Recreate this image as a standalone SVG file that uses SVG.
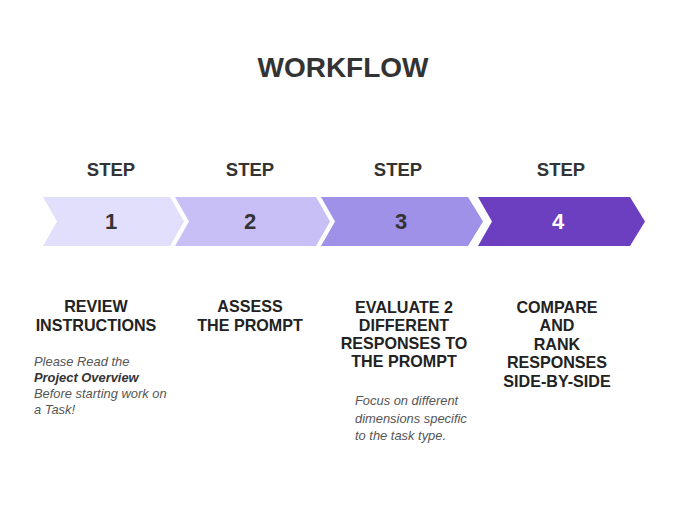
<svg xmlns="http://www.w3.org/2000/svg" width="680" height="510" viewBox="0 0 680 510">
<style>
.t{font-family:"Liberation Sans",Arial,sans-serif;font-weight:bold;fill:#333;text-anchor:middle}
.title{font-size:28px}
.step{font-size:18.5px}
.num{font-size:22px}
.h{font-size:16.1px;fill:#222}
.note{font-family:"Liberation Sans",Arial,sans-serif;font-style:italic;font-size:12.9px;fill:#555}
.note .b{font-weight:bold;fill:#333}
</style>
<rect width="680" height="510" fill="#fff"/>
<text class="t title" x="343" y="77">WORKFLOW</text>
<g id="step1">
<text class="t step" x="111" y="176">STEP</text>
<polygon points="43,197 170,197 184,221.5 170,246 43,246 57,221.5" fill="#e2dffd"/>
<text class="t num" x="111" y="229">1</text>
<text class="t h" x="96" y="312">REVIEW</text>
<text class="t h" x="96" y="331">INSTRUCTIONS</text>
<text class="note" x="34" y="366">Please Read the</text>
<text class="note" x="34" y="382"><tspan class="b">Project Overview</tspan></text>
<text class="note" x="34" y="398">Before starting work on</text>
<text class="note" x="34" y="414">a Task!</text>
</g>
<g id="step2">
<text class="t step" x="250" y="176">STEP</text>
<polygon points="175,197 316,197 330,221.5 316,246 175,246 189,221.5" fill="#c8bff6"/>
<text class="t num" x="250" y="229">2</text>
<text class="t h" x="250" y="312">ASSESS</text>
<text class="t h" x="250" y="331">THE PROMPT</text>
</g>
<g id="step3">
<text class="t step" x="398" y="176">STEP</text>
<polygon points="321,197 468,197 483,221.5 468,246 321,246 335,221.5" fill="#9f90e8"/>
<text class="t num" x="401" y="229">3</text>
<text class="t h" x="404" y="313">EVALUATE 2</text>
<text class="t h" x="404" y="331">DIFFERENT</text>
<text class="t h" x="404" y="349">RESPONSES TO</text>
<text class="t h" x="404" y="367">THE PROMPT</text>
<text class="note" x="355" y="405">Focus on different</text>
<text class="note" x="355" y="423">dimensions specific</text>
<text class="note" x="355" y="440">to the task type.</text>
</g>
<g id="step4">
<text class="t step" x="561" y="176">STEP</text>
<polygon points="478,197 630,197 645,221.5 630,246 478,246 492,221.5" fill="#6b3fc0"/>
<text class="t num" x="558" y="229" style="fill:#fff">4</text>
<text class="t h" x="557" y="313">COMPARE</text>
<text class="t h" x="557" y="331">AND</text>
<text class="t h" x="557" y="350">RANK</text>
<text class="t h" x="557" y="368">RESPONSES</text>
<text class="t h" x="557" y="387">SIDE-BY-SIDE</text>
</g>
<g id="connectors"/>
</svg>
